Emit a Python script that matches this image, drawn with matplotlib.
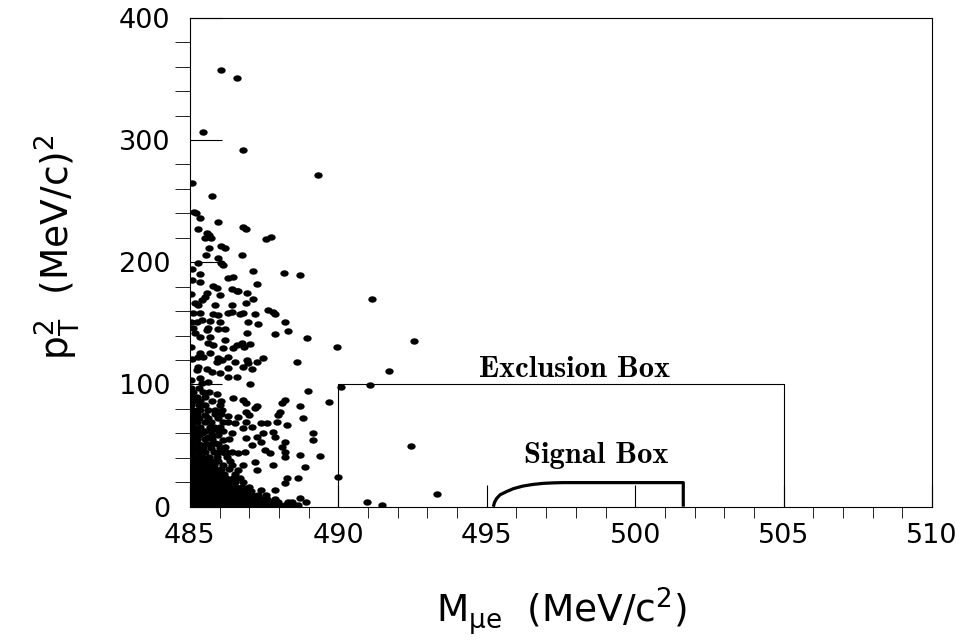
import matplotlib
matplotlib.use('Agg')
import matplotlib.pyplot as plt
import numpy as np
from matplotlib.path import Path
from matplotlib.transforms import Affine2D

plt.rcParams['mathtext.fontset'] = 'custom'
plt.rcParams['mathtext.rm'] = 'DejaVu Sans'
plt.rcParams['mathtext.it'] = 'DejaVu Sans:italic'

# events: (M_mue, pT^2)
events_top = [
    (486.03, 357.0), (486.57, 351.0), (485.43, 306.8), (486.78, 292.0), (489.30, 271.6),
    (485.07, 264.5), (485.75, 254.4), (485.13, 241.0), (485.20, 240.0), (485.34, 236.0),
    (485.95, 233.0), (485.28, 227.0), (485.56, 224.0), (485.64, 222.0), (485.50, 220.0),
    (485.70, 219.5), (486.78, 228.5), (486.89, 227.4), (487.56, 218.7), (487.73, 220.4),
    (485.64, 211.9), (486.04, 213.0), (486.18, 211.4), (485.53, 205.9), (485.93, 203.2),
    (485.28, 199.1), (486.04, 199.6), (486.10, 197.7), (486.74, 205.9), (485.06, 194.2),
    (487.13, 193.1), (488.17, 191.4), (488.71, 189.5), (485.34, 190.1), (485.06, 185.4),
    (485.34, 184.0), (486.29, 186.8), (486.46, 188.1), (485.78, 180.8), (485.90, 178.6),
    (487.25, 182.2), (486.43, 178.1), (486.63, 176.7), (486.91, 174.6), (485.56, 174.6),
    (485.50, 171.8), (486.01, 173.2), (487.13, 169.7), (491.13, 170.3), (486.57, 176.5),
]

events_mid = [
    (485.39, 169.1), (485.28, 165.0), (485.17, 167.0), (485.84, 165.0), (486.40, 165.0),
    (486.90, 167.0), (487.64, 161.0), (487.81, 159.6), (487.86, 157.7), (487.19, 157.7),
    (486.80, 158.2), (486.68, 157.7), (486.29, 158.8), (486.40, 159.6), (485.79, 157.7),
    (485.95, 156.9), (485.11, 158.8), (485.34, 158.8), (485.05, 151.4), (485.22, 151.4),
    (485.39, 152.8), (485.67, 152.2), (486.01, 151.4), (486.96, 151.4), (487.30, 149.5),
    (488.20, 151.4), (485.62, 146.0), (485.56, 144.6), (485.95, 145.1), (486.18, 145.1),
    (486.91, 142.4), (485.17, 142.4), (485.34, 139.2), (485.67, 139.2), (487.86, 141.0),
    (488.31, 144.1), (488.93, 137.8), (486.18, 136.4), (485.62, 133.7), (485.79, 132.3),
    (486.57, 132.3), (486.74, 133.7), (487.02, 133.2), (486.46, 129.6), (486.83, 130.4),
    (486.12, 129.6), (485.67, 126.1), (485.34, 125.5), (485.28, 122.8), (485.45, 122.8),
    (485.95, 121.4), (485.90, 118.7), (486.07, 120.1), (486.29, 122.8), (486.52, 118.7),
    (486.91, 120.1), (486.96, 117.4), (487.25, 118.7), (487.47, 121.4), (488.60, 118.7),
    (486.80, 114.6), (487.08, 112.7), (485.28, 114.6), (485.22, 111.9), (485.56, 112.5),
    (485.73, 110.5), (486.01, 109.2), (486.29, 113.3), (485.34, 105.1), (485.39, 101.0),
    (485.62, 102.4), (486.29, 106.5), (486.57, 105.9), (487.02, 100.5), (489.95, 130.8),
    (492.55, 135.5), (491.70, 110.8), (490.10, 98.0), (491.06, 99.3),
    (485.05, 131.0), (485.08, 121.0), (485.05, 104.0), (485.1, 146.5), (485.05, 174.0),
]

events_low = [
    (485.90, 92.2), (486.46, 88.7), (486.80, 87.3), (486.90, 85.1), (487.25, 82.4),
    (487.20, 80.5), (486.90, 77.8), (487.00, 75.1), (486.63, 73.7), (486.29, 74.2),
    (487.58, 68.8), (487.40, 68.3), (488.09, 85.1), (488.20, 87.3), (488.03, 77.8),
    (487.98, 75.1), (488.70, 82.4), (488.80, 72.3), (488.99, 94.4), (489.68, 85.4),
    (487.81, 61.4), (487.86, 57.4), (488.26, 66.9), (487.47, 60.1), (487.25, 57.4),
    (487.40, 53.3), (486.90, 56.0), (487.08, 50.5), (488.20, 53.3), (488.09, 49.2),
    (488.20, 45.1), (488.20, 41.0), (487.70, 43.7), (487.53, 46.5), (488.71, 42.4),
    (489.16, 60.6), (489.16, 54.6), (489.38, 41.5), (488.88, 32.8), (487.81, 34.2),
    (487.19, 36.9), (487.25, 30.1), (486.80, 34.2), (486.63, 30.1), (488.26, 23.3),
    (488.20, 19.2), (488.65, 23.3), (488.43, 4.2), (488.71, 6.9), (487.86, 13.8),
    (487.40, 13.8), (486.85, 45.1), (486.63, 43.7), (486.18, 43.7), (486.40, 45.1),
    (487.08, 65.5), (486.80, 64.2), (486.90, 69.6), (487.92, 69.6), (486.40, 60.1),
    (485.95, 62.8), (485.67, 65.5), (485.28, 79.2), (485.50, 75.1), (486.07, 79.2),
    (485.95, 75.1), (486.29, 69.6), (486.52, 68.3), (486.12, 54.6), (485.84, 51.9),
    (486.18, 49.2), (485.39, 60.1), (485.62, 57.4), (485.34, 47.8),
    (492.45, 49.7), (490.00, 24.5), (490.97, 3.6), (491.46, 1.4), (493.31, 10.6),
    (488.90, 3.6),
]

# dense core near the lower-left corner, one row of masses per pT^2 level
core_pt2 = [1.0, 3.5, 6.5, 9.5, 13.0, 16.5, 20.0, 23.5, 27.0, 30.5, 34.0, 37.5,
            41.0, 44.5, 48.0, 51.5, 55.0, 58.5, 62.0, 65.5, 69.0, 72.5, 76.0,
            79.5, 83.0, 86.5, 90.0, 93.5, 97.0]
core_mass = [
    [485.05, 485.2, 485.38, 485.55, 485.72, 485.9, 486.08, 486.25, 486.42, 486.6, 486.78,
     486.95, 487.12, 487.3, 487.48, 487.65, 487.82, 488.0, 488.2, 488.45, 488.65],
    [485.1, 485.28, 485.46, 485.64, 485.82, 486.0, 486.18, 486.36, 486.54, 486.72, 486.9,
     487.08, 487.26, 487.44, 487.62, 487.8, 487.98, 488.3],
    [485.05, 485.22, 485.4, 485.58, 485.76, 485.94, 486.12, 486.3, 486.48, 486.66, 486.84,
     487.02, 487.2, 487.4, 487.6, 487.85],
    [485.1, 485.28, 485.46, 485.64, 485.82, 486.0, 486.18, 486.36, 486.54, 486.72, 486.9,
     487.1, 487.3, 487.55],
    [485.05, 485.22, 485.4, 485.58, 485.76, 485.94, 486.12, 486.3, 486.48, 486.66, 486.85,
     487.05],
    [485.1, 485.28, 485.46, 485.64, 485.82, 486.0, 486.18, 486.36, 486.55, 486.75, 487.0],
    [485.05, 485.22, 485.4, 485.58, 485.76, 485.94, 486.12, 486.3, 486.5, 486.8],
    [485.1, 485.28, 485.46, 485.64, 485.82, 486.0, 486.2, 486.45, 486.7],
    [485.05, 485.22, 485.4, 485.58, 485.76, 485.95, 486.15, 486.5],
    [485.1, 485.28, 485.46, 485.64, 485.85, 486.05, 486.3],
    [485.05, 485.22, 485.4, 485.6, 485.8, 486.1, 486.4],
    [485.1, 485.28, 485.48, 485.7, 485.95, 486.35],
    [485.05, 485.22, 485.4, 485.65, 485.9, 486.25],
    [485.1, 485.3, 485.5, 485.8, 486.0, 486.2],
    [485.05, 485.25, 485.45, 485.7, 486.0],
    [485.1, 485.3, 485.55, 485.7, 485.95],
    [485.05, 485.25, 485.5, 485.75, 486.3],
    [485.1, 485.3, 485.75, 485.95],
    [485.05, 485.25, 485.5, 485.7, 486.1],
    [485.1, 485.35, 485.8, 486.0],
    [485.05, 485.25, 485.5, 485.7, 486.1],
    [485.1, 485.3, 485.6, 485.95],
    [485.05, 485.25, 485.84, 486.05],
    [485.1, 485.35, 485.6, 485.85],
    [485.05, 485.3, 485.5, 486.0],
    [485.1, 485.35, 485.75, 486.05],
    [485.05, 485.25, 485.5],
    [485.1, 485.45, 485.65],
    [485.05, 485.3],
]

# signal box: curved low-mass edge, flat top, high-mass edge
sig_curve_mass = [495.22, 495.26, 495.33, 495.45, 495.66, 495.90, 496.22, 496.55, 496.90, 497.25, 497.58]
sig_curve_pt2 = [0.0, 3.5, 6.7, 9.8, 12.3, 14.8, 16.9, 18.2, 19.1, 19.5, 19.7]
sig_mass_max = 501.62

excl_mass = [490, 505]
excl_pt2 = 100

pts = events_top + events_mid + events_low
for y, xs in zip(core_pt2, core_mass):
    pts += [(x, y) for x in xs]
mass = np.array([p[0] for p in pts])
pt2 = np.array([p[1] for p in pts])

fig = plt.figure(figsize=(9.62, 6.4), dpi=100)
ax = fig.add_axes([190/962, 1 - 506.7/640, 742/962, 489/640])

dot = Path.unit_circle().transformed(Affine2D().scale(1.3, 1.0))
ax.plot(mass, pt2, linestyle='none', marker=dot, markersize=6.0, color='black',
        markeredgewidth=0)

ax.plot([excl_mass[0], excl_mass[0], excl_mass[1], excl_mass[1]],
        [0, excl_pt2, excl_pt2, 0], color='black', lw=0.8)

sig_x = sig_curve_mass + [sig_mass_max, sig_mass_max]
sig_y = sig_curve_pt2 + [sig_curve_pt2[-1], 0]
ax.plot(sig_x, sig_y, color='black', lw=2.3, solid_capstyle='butt')

ax.text(497.95, 106.3, 'Exclusion Box', family='cmb10', fontsize=22,
        ha='center', va='baseline')
ax.text(498.7, 35.5, 'Signal Box', family='cmb10', fontsize=22,
        ha='center', va='baseline')

ax.set_xlim(485, 510)
ax.set_ylim(0, 400)
ax.set_xticks(np.arange(485, 511, 5))
ax.set_xticks(np.arange(485, 511, 1), minor=True)
ax.set_yticks(np.arange(0, 401, 100))
ax.set_yticks(np.arange(0, 401, 20), minor=True)
ax.tick_params(direction='in', top=False, right=False, width=0.8,
               labelsize=19.5, pad=12)
ax.tick_params(axis='x', which='major', length=16)
ax.tick_params(axis='x', which='minor', length=8)
ax.tick_params(axis='y', which='major', length=23, pad=14)
ax.tick_params(axis='y', which='minor', length=11)
for lab in ax.get_xticklabels() + ax.get_yticklabels():
    lab.set_family('DejaVu Sans')
for s in ax.spines.values():
    s.set_linewidth(0.8)

ax.set_xlabel(r'M$_{\mathrm{\mu e}}$  (MeV/c$^{2}$)', fontsize=27, family='DejaVu Sans')
ax.xaxis.set_label_coords(0.5, -0.16)
ax.set_ylabel(r'p$_{\mathrm{T}}^{2}$  (MeV/c)$^{2}$', fontsize=27, family='DejaVu Sans')
ax.yaxis.set_label_coords(-0.145, 0.53)

fig.savefig('out.png', dpi=100)
